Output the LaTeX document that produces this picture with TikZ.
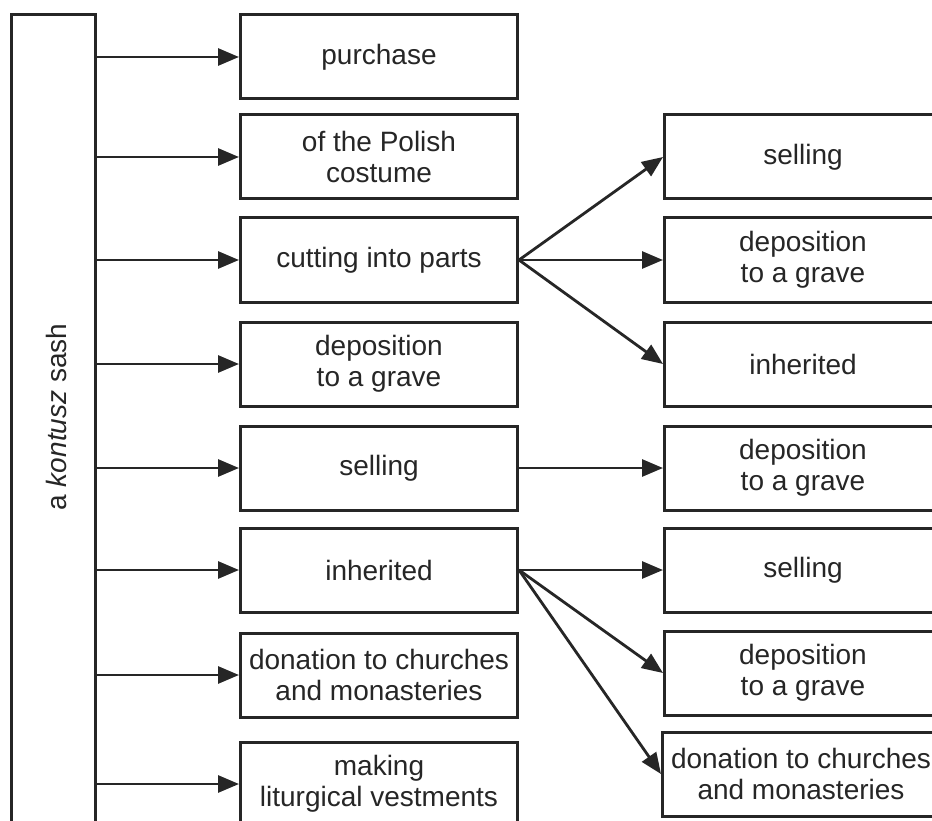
\documentclass[tikz,border=0pt]{standalone}
\usepackage{fontspec}
\setmainfont{Liberation Sans}
\usetikzlibrary{arrows.meta}
\definecolor{ink}{HTML}{262626}
\begin{document}
\begin{tikzpicture}[x=1pt,y=-1pt,
  box/.style={draw=ink, line width=3pt, minimum width=277pt, minimum height=84pt,
    align=center, inner sep=0pt, font=\fontsize{28}{31.5}\selectfont, text=ink},
  arr/.style={draw=ink, line width=2.8pt, -{Triangle[length=21pt,width=17pt]}}]
\useasboundingbox (0,0) rectangle (932,821);
\clip (0,0) rectangle (932,821);
\fill[white] (0,0) rectangle (932,821);
% source
\node[draw=ink, line width=3pt, minimum width=84pt, minimum height=885pt, inner sep=0pt] (src) at (53.5,457.5) {};
\node[rotate=90, text=ink, font=\fontsize{28}{31.5}\selectfont, inner sep=0pt] (srclabel) at (56,417) {a \textit{kontusz} sash};
% middle column
\node[box] (m1) at (379,57) {purchase};
\node[box] (m2) at (379,157) {of the Polish\\costume};
\node[box] (m3) at (379,260) {cutting into parts};
\node[box] (m4) at (379,364) {deposition\\to a grave};
\node[box] (m5) at (379,468) {selling};
\node[box] (m6) at (379,570) {inherited};
\node[box] (m7) at (379,675) {donation to churches\\and monasteries};
\node[box] (m8) at (379,784) {making\\liturgical vestments};
% right column
\node[box] (r1) at (803,157) {selling};
\node[box] (r2) at (803,260) {deposition\\to a grave};
\node[box] (r3) at (803,364) {inherited};
\node[box] (r4) at (803,468) {deposition\\to a grave};
\node[box] (r5) at (803,570) {selling};
\node[box] (r6) at (803,673) {deposition\\to a grave};
\node[box] (r7) at (801,774) {donation to churches\\and monasteries};
% arrows from source
\foreach \m in {m1,m2,m3,m4,m5,m6,m7,m8}
  \draw[arr] (src.east |- \m.west) -- (\m.west);
% fan arrows
\draw[arr] (m3.east) -- (r1.west);
\draw[arr] (m3.east) -- (r2.west);
\draw[arr] (m3.east) -- (r3.west);
\draw[arr] (m5.east) -- (r4.west);
\draw[arr] (m6.east) -- (r5.west);
\draw[arr] (m6.east) -- (r6.west);
\draw[arr] (m6.east) -- (r7.west);
\end{tikzpicture}
\end{document}
